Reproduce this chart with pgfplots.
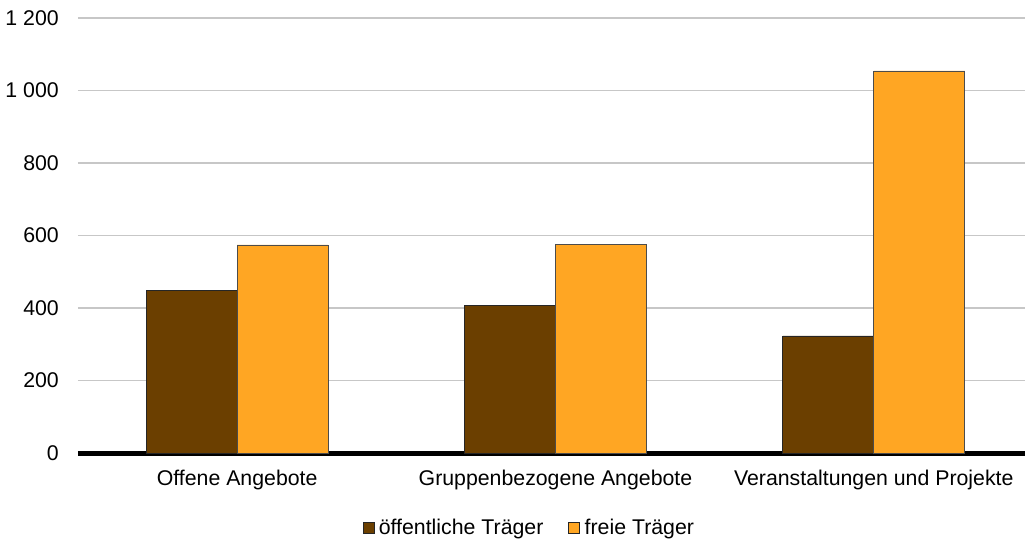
\documentclass[border=0pt]{standalone}
\usepackage{fontspec}
\setmainfont{Liberation Sans}
\usepackage{pgfplots}
\pgfplotsset{compat=1.18}
\usetikzlibrary{calc}
\definecolor{dunkel}{HTML}{6B3F00}
\definecolor{hell}{HTML}{FFA623}
\begin{document}
\begin{tikzpicture}[font=\fontsize{21.3bp}{25bp}\selectfont]
\begin{axis}[name=ax, scale only axis, width=947bp, height=435bp,
  xmin=-0.5, xmax=2.475, ymin=0, ymax=1200,
  ybar=0pt, bar width=91bp,
  xtick={0,1,2},
  xticklabels={Offene Angebote, Gruppenbezogene Angebote, Veranstaltungen und Projekte},
  ytick={0,200,400,600,800,1000,1200},
  yticklabels={0,200,400,600,800,1 000,1 200},
  major tick length=0pt,
  ymajorgrids, grid style={draw=black!22, line width=1.5bp},
  axis x line=bottom, axis y line=left,
  x axis line style={line width=5bp, -},
  y axis line style={draw=none},
  yticklabel style={anchor=east, inner sep=0pt, xshift=-19bp},
  xticklabel style={anchor=north, inner sep=0pt, yshift=-17bp},
  legend style={at={(0.4765,-0.1724)}, anchor=center, draw=none, fill=none,
    legend columns=2, /tikz/every even column/.append style={column sep=23bp}},
  legend image code/.code={\draw[#1,draw=black!85,line width=0.8bp] (0bp,-5.5bp) rectangle (11bp,5.5bp); \path (13.5bp,0bp);},
]
\addplot[fill=dunkel, draw=black!85, line width=0.8bp] coordinates {(0,448) (1,406) (2,323)};
\addplot[fill=hell, draw=black!70, line width=0.8bp] coordinates {(0,574) (1,575) (2,1054)};
\legend{öffentliche Träger, freie Träger}
\end{axis}
\pgfresetboundingbox
\path[use as bounding box] ($(ax.south west)+(-78bp,-91bp)$) rectangle ($(ax.north east)+(2bp,18bp)$);
\end{tikzpicture}
\end{document}
